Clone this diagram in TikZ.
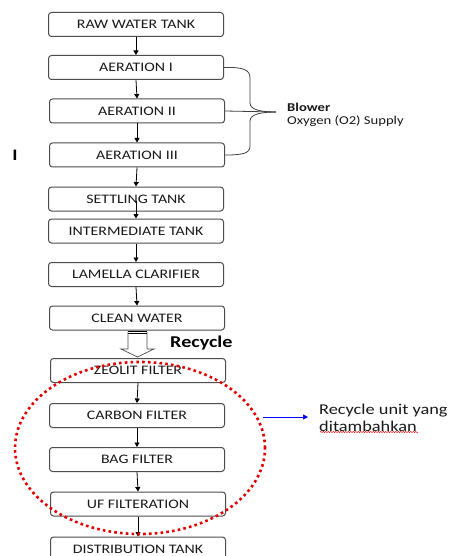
\documentclass[tikz,border=0pt]{standalone}
\usepackage{fontspec}
\setmainfont{Carlito}[FakeStretch=1.22]
\usetikzlibrary{arrows.meta,shapes.geometric,decorations.pathmorphing}
\tikzset{
  procbox/.style={draw=black!70, line width=1pt, rounded corners=3pt, minimum width=175pt, minimum height=24pt, inner sep=0pt, font=\fontsize{13}{14}\selectfont, text=black!90},
  flow/.style={draw=black, line width=0.8pt, -{Triangle[length=4.5pt,width=5pt]}},
  bracket/.style={draw=black!75, line width=0.8pt},
}
\begin{document}
\begin{tikzpicture}[x=1pt,y=-1pt]
\useasboundingbox[fill=white] (0,0) rectangle (448,556);
% boxes
\node[procbox] (raw)    at (136,24.5) {RAW WATER TANK};
\node[procbox] (aer1)   at (136,67.5) {AERATION I};
\node[procbox] (aer2)   at (137,111)  {AERATION II};
\node[procbox] (aer3)   at (137,155)  {AERATION III};
\node[procbox] (settle) at (136,199)  {SETTLING TANK};
\node[procbox] (inter)  at (136,231)  {INTERMEDIATE TANK};
\node[procbox] (lam)    at (136,274.5){LAMELLA CLARIFIER};
\node[procbox] (clean)  at (137,318)  {CLEAN WATER};
\node[procbox] (zeo)    at (138,370.5){ZEOLIT FILTER};
\node[procbox] (carb)   at (137,415.5){CARBON FILTER};
\node[procbox] (bag)    at (137,459.5){BAG FILTER};
\node[procbox] (uf)     at (138,504)  {UF FILTERATION};
\node[procbox] (dist)   at (138,549)  {DISTRIBUTION TANK};
% flow arrows
\draw[flow] (raw.south) -- (aer1.north);
\draw[flow] (aer1.south) -- (aer2.north);
\draw[flow] (aer2.south) -- (aer3.north);
\draw[flow] (aer3.south) -- (settle.north);
\draw[flow] ([yshift=-1.5pt]settle.center) -- (inter.north);
\draw[flow] (inter.south) -- (lam.north);
\draw[flow] (lam.south) -- (clean.north);
\draw[flow] (zeo.south) -- (carb.north);
\draw[flow] (carb.south) -- (bag.north);
\draw[flow] (bag.south) -- (uf.north);
\draw[flow] (uf.south) -- (dist.north);
% hollow recycle arrow
\draw[draw=black!70, line width=0.7pt, fill=white, line join=miter]
  (128,331.5) -- (128,349) -- (121,349) -- (137.5,357) -- (154,349) -- (147,349) -- (147,331.5);
\draw[black, line width=0.9pt] (128,331.2) -- (147,331.2);
\draw[black, line width=0.9pt] (128,333.4) -- (147,333.4);
\node[font=\bfseries\fontsize{16.5}{18}\selectfont, anchor=west, inner sep=0pt] (rec) at (170,343) {Recycle};
% blower bracket
\coordinate (tip) at (276,112);
\draw[bracket] (aer1.east) .. controls (244,67) and (250,70) .. (250,78) -- (250,103)
  .. controls (250,110) and (262,112) .. (tip);
\draw[bracket] (tip) .. controls (262,112) and (250,114) .. (250,121) -- (250,146)
  .. controls (250,153) and (244,155) .. (aer3.east);
\draw[bracket] (aer2.east) -- (tip);
\node[anchor=west, align=left, inner sep=0pt, font=\fontsize{12}{13}\selectfont, text=black!90] (blow) at (287,114.5)
  {\textbf{Blower}\\Oxygen (O2) Supply};
% stray mark
\node[font=\bfseries\fontsize{16}{16}\selectfont, inner sep=0pt] (mark) at (15,155) {I};
% dotted ring
\node[ellipse, draw=red!90!black, line width=2.6pt, dash pattern=on 2.6pt off 3.2pt, minimum width=250pt, minimum height=172pt, inner sep=0pt] (ring) at (140,448) {};
% note
\coordinate (nstart) at (263,417);
\node[anchor=west, align=left, inner sep=0pt, font=\fontsize{15}{17}\selectfont, text=black!90] (note) at (319,417.5)
  {Recycle unit yang\\ditambahkan};
\draw[blue, line width=0.5pt, -{Triangle[length=5pt,width=5pt]}] (nstart) -- (308,417);
\draw[red, line width=0.4pt, decorate, decoration={snake, amplitude=0.7pt, segment length=2.5pt}] (320,432) -- (418,432);
\end{tikzpicture}
\end{document}
